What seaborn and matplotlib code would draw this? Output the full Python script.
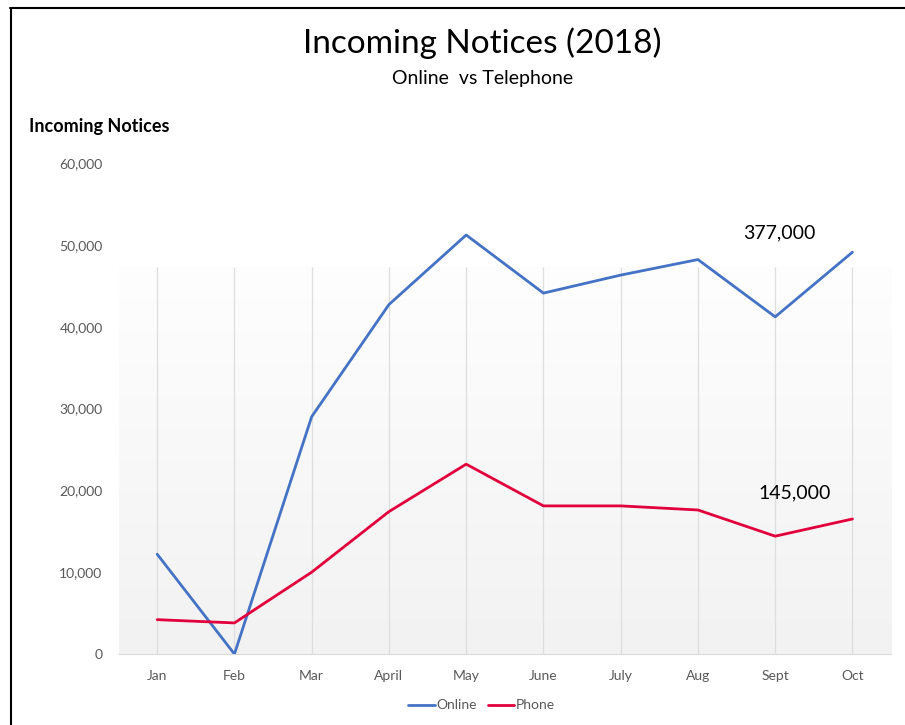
import numpy as np
import pandas as pd
import seaborn as sns
import matplotlib.pyplot as plt
from matplotlib.colors import LinearSegmentedColormap
from matplotlib.lines import Line2D
from matplotlib.ticker import FuncFormatter

months = ['Jan', 'Feb', 'Mar', 'April', 'May', 'June', 'July', 'Aug', 'Sept', 'Oct']
online = [12200, 0, 29000, 42700, 51200, 44100, 46300, 48200, 41200, 49100]
phone = [4200, 3800, 10000, 17400, 23200, 18100, 18100, 17600, 14400, 16500]
totals = {'Online': '377,000', 'Phone': '145,000'}

sns.set_style('white')
plt.rcParams['font.family'] = ['Lato', 'DejaVu Sans']

df = pd.DataFrame({'month': months * 2,
                   'notices': online + phone,
                   'channel': ['Online'] * len(months) + ['Phone'] * len(months)})
colors = {'Online': '#4472c4', 'Phone': '#e2003c'}

fig = plt.figure(figsize=(9.05, 7.25), dpi=100)
ax = fig.add_axes([0.131, 0.0979, 0.8536, 0.6773])

# shaded band behind the lines, white to light grey
shade = LinearSegmentedColormap.from_list('shade', ['#f2f2f2', '#fefefe'])
ax.imshow(np.linspace(0, 1, 256).reshape(-1, 1), cmap=shade, origin='lower',
          extent=[-0.5, 9.5, 0, 47300], aspect='auto', zorder=0)
ax.vlines(range(len(months)), 0, 47300, color='#dedede', lw=0.9, zorder=1)

sns.lineplot(data=df, x='month', y='notices', hue='channel', palette=colors,
             sort=False, lw=2, legend=False, ax=ax, zorder=3)

ax.set_xlim(-0.5, 9.5)
ax.set_ylim(0, 60000)
ax.set_yticks(range(0, 60001, 10000))
ax.yaxis.set_major_formatter(FuncFormatter(lambda v, p: f'{int(v):,}'))
ax.tick_params(length=0, labelsize=10, colors='#595959')
ax.tick_params(axis='y', pad=11.5)
ax.tick_params(axis='x', pad=11.5)
ax.set_xlabel('')
ax.set_ylabel('')
for s in ['left', 'right', 'top']:
    ax.spines[s].set_visible(False)
ax.spines['bottom'].set_color('#d9d9d9')

ax.text(8.05, 51400, totals['Online'], ha='center', va='center', fontsize=14, color='black')
ax.text(8.25, 19700, totals['Phone'], ha='center', va='center', fontsize=14, color='black')

fig.text(0.533, 0.94, 'Incoming Notices (2018)', ha='center', va='center', fontsize=24, color='black')
fig.text(0.533, 0.892, 'Online  vs Telephone', ha='center', va='center', fontsize=14, color='black')
fig.text(0.032, 0.825, 'Incoming Notices', ha='left', va='center', fontsize=13,
         fontweight='bold', color='black')

handles = [Line2D([], [], color=colors[k], lw=2) for k in colors]
fig.legend(handles, list(colors), loc='center', bbox_to_anchor=(0.532, 0.027), ncol=2,
           frameon=False, fontsize=10, handlelength=1.9, handletextpad=0.1,
           columnspacing=0.8, labelcolor='#595959')

# frame edges visible on the left and top of the picture
fig.add_artist(Line2D([10.5 / 905, 10.5 / 905], [0, 1 - 8 / 725], color='black', lw=1.5))
fig.add_artist(Line2D([10 / 905, 1], [1 - 8 / 725, 1 - 8 / 725], color='black', lw=1.5))

fig.savefig('out.png', dpi=100)
